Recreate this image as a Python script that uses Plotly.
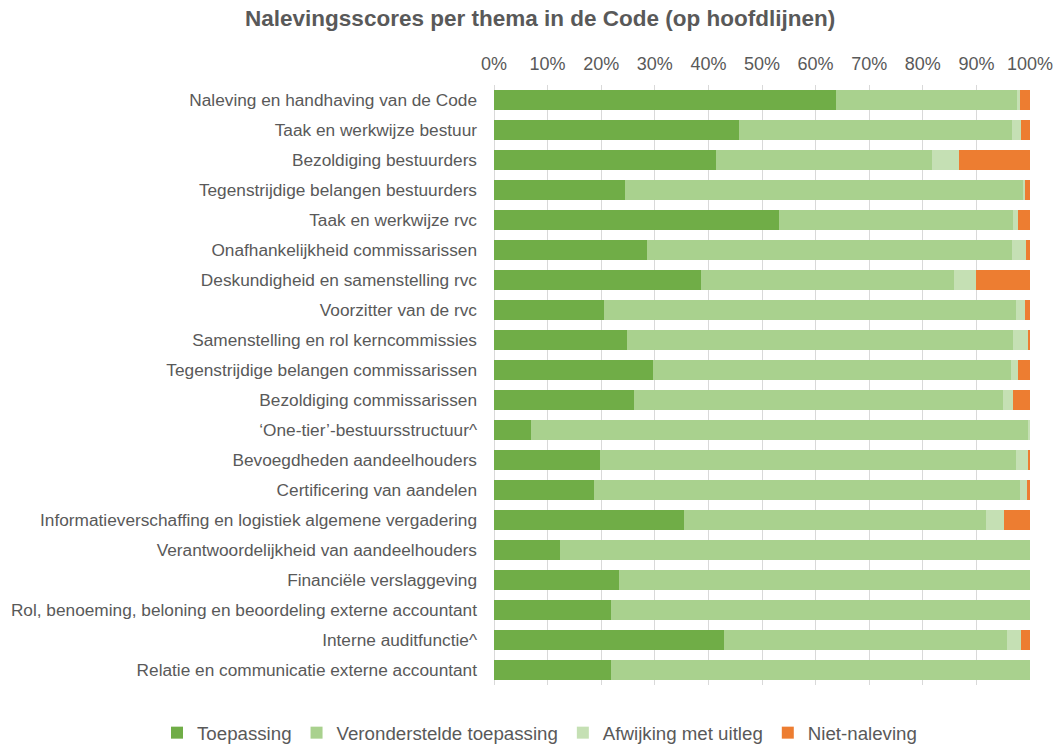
import plotly.graph_objects as go

# Themes of the Code, top to bottom
themes = [
    "Naleving en handhaving van de Code",
    "Taak en werkwijze bestuur",
    "Bezoldiging bestuurders",
    "Tegenstrijdige belangen bestuurders",
    "Taak en werkwijze rvc",
    "Onafhankelijkheid commissarissen",
    "Deskundigheid en samenstelling rvc",
    "Voorzitter van de rvc",
    "Samenstelling en rol kerncommissies",
    "Tegenstrijdige belangen commissarissen",
    "Bezoldiging commissarissen",
    "\u2018One-tier\u2019-bestuursstructuur^",
    "Bevoegdheden aandeelhouders",
    "Certificering van aandelen",
    "Informatieverschaffing en logistiek algemene vergadering",
    "Verantwoordelijkheid van aandeelhouders",
    "Financi\u00eble verslaggeving",
    "Rol, benoeming, beloning en beoordeling externe accountant",
    "Interne auditfunctie^",
    "Relatie en communicatie externe accountant",
]

# Shares per theme (%)
toepassing = [63.8, 45.7, 41.5, 24.5, 53.2, 28.6, 38.6, 20.5, 24.8, 29.6,
              26.1, 6.9, 19.7, 18.7, 35.5, 12.3, 23.3, 21.8, 42.9, 21.8]
veronderstelde = [33.8, 50.9, 40.3, 74.2, 43.7, 68.0, 47.3, 76.8, 72.1, 66.9,
                  68.9, 92.8, 77.6, 79.4, 56.3, 87.7, 76.7, 78.2, 52.9, 78.2]
afwijking = [0.5, 1.8, 4.9, 0.4, 0.8, 2.7, 4.1, 1.8, 2.7, 1.2,
             1.9, 0.3, 2.3, 1.4, 3.3, 0.0, 0.0, 0.0, 2.6, 0.0]
niet_naleving = [1.9, 1.6, 13.3, 0.9, 2.3, 0.7, 10.0, 0.9, 0.4, 2.3,
                 3.1, 0.0, 0.4, 0.5, 4.9, 0.0, 0.0, 0.0, 1.6, 0.0]

series = [
    ("Toepassing", toepassing, "#70AD47"),
    ("Veronderstelde toepassing", veronderstelde, "#A9D18E"),
    ("Afwijking met uitleg", afwijking, "#C5E0B4"),
    ("Niet-naleving", niet_naleving, "#ED7D31"),
]

FONT = "Liberation Sans, Arial, sans-serif"
GREY = "#595959"

fig = go.Figure()
for name, vals, color in series:
    fig.add_trace(go.Bar(
        y=themes, x=vals, name=name, orientation="h",
        marker=dict(color=color, line=dict(width=0)),
        hovertemplate="%{y}<br>" + name + ": %{x:.1f}%<extra></extra>",
    ))

fig.update_layout(
    width=1057, height=744,
    barmode="stack", bargap=0.33,
    paper_bgcolor="white", plot_bgcolor="white",
    margin=dict(l=494, r=27, t=85, b=59, autoexpand=False),
    font=dict(family=FONT, color=GREY, size=17),
    title=dict(
        text="<b>Nalevingsscores per thema in de Code (op hoofdlijnen)</b>",
        font=dict(size=22.5, color=GREY, family=FONT),
        x=0.511, xanchor="center", xref="container",
        y=0.976, yanchor="middle", yref="container",
    ),
    xaxis=dict(
        side="top", range=[0, 100], dtick=10, ticksuffix="%",
        showgrid=True, gridcolor="#D9D9D9", gridwidth=1,
        zeroline=True, zerolinecolor="#D9D9D9", zerolinewidth=1,
        showline=False, ticks="", ticklabelstandoff=10,
        tickfont=dict(size=18, color=GREY),
        automargin=False, fixedrange=True,
    ),
    yaxis=dict(
        autorange="reversed", showgrid=False, showline=False, ticks="",
        ticklabelstandoff=16,
        tickfont=dict(size=17.25, color=GREY),
        automargin=False, fixedrange=True,
    ),
    legend=dict(
        orientation="h", xref="paper", yref="paper",
        x=(157 - 494) / 536, xanchor="left",
        y=-(733 - 685) / 600, yanchor="middle",
        font=dict(size=18.7, color=GREY),
        itemwidth=30, traceorder="normal",
    ),
)

fig.write_html("out.html")
